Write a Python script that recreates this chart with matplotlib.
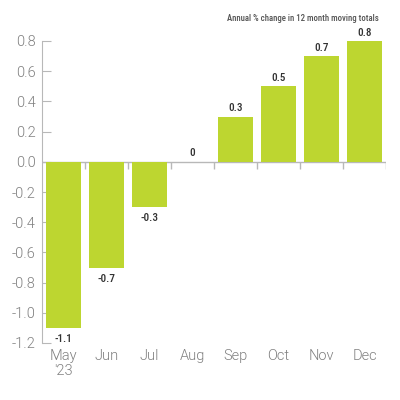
import numpy as np
import matplotlib.pyplot as plt

months = ["May\n'23", "Jun", "Jul", "Aug", "Sep", "Oct", "Nov", "Dec"]
values = [-1.1, -0.7, -0.3, 0.0, 0.3, 0.5, 0.7, 0.8]
labels = ["-1.1", "-0.7", "-0.3", "0", "0.3", "0.5", "0.7", "0.8"]
yticks = [0.8, 0.6, 0.4, 0.2, 0.0, -0.2, -0.4, -0.6, -0.8, -1.0, -1.2]

bar_color = "#bdd630"
axis_color = "#b8b8b8"
cond = ["Roboto Condensed", "DejaVu Sans"]
light = ["Roboto", "DejaVu Sans"]

fig = plt.figure(figsize=(4, 4), dpi=100)
ax = fig.add_axes([0.105, 0.1425, 0.86, 0.755])

x = np.arange(len(months))
ax.bar(x, values, width=0.8, color=bar_color, zorder=2)

for xi, v, lab in zip(x, values, labels):
    off, va = (2.5, "bottom") if v >= 0 else (-4.5, "top")
    ax.annotate(lab, (xi, v), xytext=(0, off), textcoords="offset points",
                ha="center", va=va, fontsize=8, fontweight=500,
                color="#333333", family=cond)

ax.set_xlim(-0.5, len(months) - 0.5)
ax.set_ylim(-1.2, 0.8)

# zero line and category separators
ax.axhline(0, color=axis_color, lw=1, zorder=1)
ax.vlines(np.arange(len(months)) + 0.5, -0.045, 0, color=axis_color, lw=1, zorder=1)

for s in ["top", "right", "bottom"]:
    ax.spines[s].set_visible(False)
ax.spines["left"].set_color(axis_color)

ax.set_yticks(yticks)
ax.set_yticklabels([f"{t:.1f}" for t in yticks])
ax.tick_params(axis="y", direction="in", length=6.5, color=axis_color,
               labelsize=10.5, labelcolor="#808080", pad=4.5)
ax.set_xticks(x)
ax.set_xticklabels(months, linespacing=1.05)
ax.tick_params(axis="x", length=0, labelsize=10.5, labelcolor="#808080", pad=4.5)
for t in ax.get_xticklabels() + ax.get_yticklabels():
    t.set_family(light)
    t.set_fontweight(300)

fig.text(0.948, 0.953, "Annual % change in 12 month moving totals", ha="right",
         va="center", fontsize=6.3, fontweight=500, color="#555555", family=cond)

fig.savefig("out.png", dpi=100)
